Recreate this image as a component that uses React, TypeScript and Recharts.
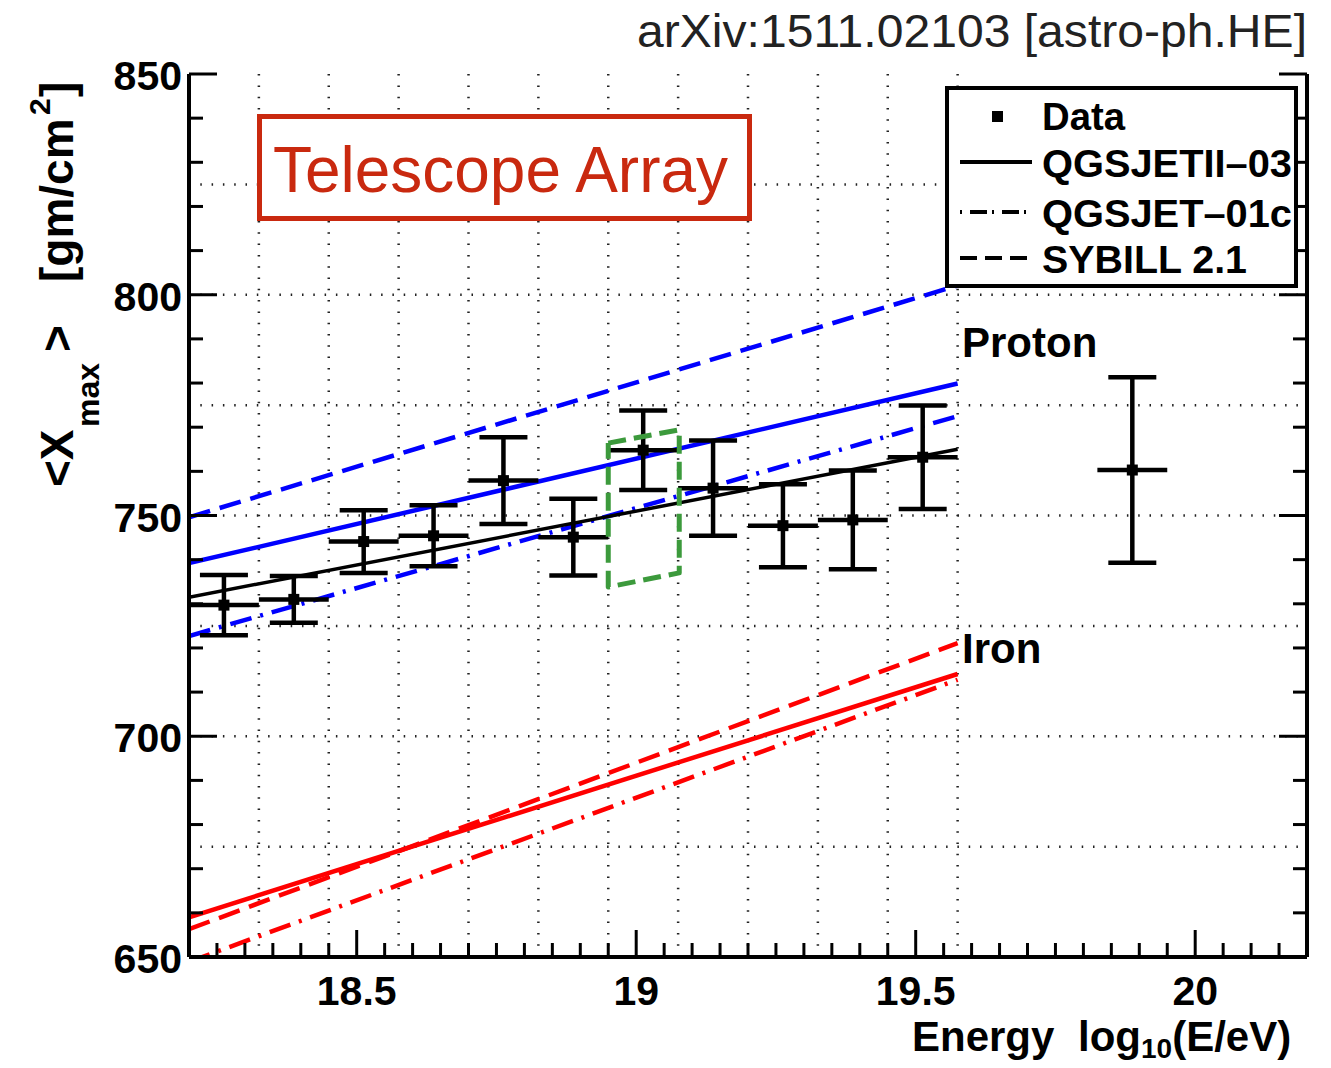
import React from 'react';
import { ComposedChart, XAxis, YAxis, Line, Scatter, ErrorBar, ReferenceLine } from 'recharts';

// <Xmax> per energy bin (log10 E/eV), bin half-width and statistical error
const energy = [18.2625, 18.3875, 18.5125, 18.6375, 18.7625, 18.8875, 19.0125, 19.1375, 19.2625, 19.3875, 19.5125, 19.8875];
const xmaxMean = [729.7, 731.0, 744.1, 745.4, 757.9, 745.1, 764.8, 756.2, 747.7, 749.0, 763.2, 760.3];
const xmaxErr = [6.8, 5.3, 7.1, 6.9, 9.8, 8.7, 9.0, 10.8, 9.4, 11.2, 11.7, 21.0];
const binHalf = [0.0625, 0.0625, 0.0625, 0.0625, 0.0625, 0.0625, 0.0625, 0.0625, 0.0625, 0.0625, 0.0625, 0.0625];

// straight-line predictions, evaluated at the ends of the fitted range
const lineEnergy = [18.2, 19.575];
const dataFit = [731.5, 765.0];
const protonQgsjetII = [739.2, 779.9];
const protonQgsjet01 = [722.7, 772.5];
const protonSibyll = [749.6, 802.1];
const ironQgsjetII = [659.0, 714.1];
const ironQgsjet01 = [648.9, 712.8];
const ironSibyll = [656.3, 721.1];

// highlighted bin outline
const boxEnergy = [18.95, 19.077, 19.077, 18.95, 18.95];
const boxXmax = [766.4, 769.4, 737.0, 733.8, 766.4];

// grid: bin edges and every 25 g/cm2
const gridEnergy = [18.325, 18.45, 18.575, 18.7, 18.825, 18.95, 19.075, 19.2, 19.325, 19.45, 19.575];
const gridXmax = [675, 700, 725, 750, 775, 800, 825];

const xMajorLabels = [18.5, 19, 19.5, 20];
const yMajorLabels = [650, 700, 750, 800, 850];

const X_DOMAIN: [number, number] = [18.2, 20.2];
const Y_DOMAIN: [number, number] = [650, 850];

const xTicks: number[] = [];
for (let i = 0; i < 39; i++) xTicks.push(Number((18.25 + 0.05 * i).toFixed(2)));
const yTicks: number[] = [];
for (let v = 650; v <= 850; v += 10) yTicks.push(v);

const FONT = "'Liberation Sans', Arial, Helvetica, sans-serif";
const DASHED = '22 10';
const DASHDOT = '22 9 3 9';

const pts = (xs: number[], ys: number[]) => xs.map((x, i) => ({ x, y: ys[i] }));
const dataPoints = energy.map((x, i) => ({ x, y: xmaxMean[i], ey: xmaxErr[i], ex: binHalf[i] }));

const isMajorX = (v: number) => xMajorLabels.some((m) => Math.abs(m - v) < 1e-6);
const isMajorY = (v: number) => yMajorLabels.includes(v);

function BottomTick({ x, y, payload }: any) {
  const major = isMajorX(payload.value);
  return (
    <g>
      <line x1={x} x2={x} y1={y} y2={y - (major ? 27 : 14)} stroke="#000" strokeWidth={3} />
      {major && (
        <text x={x} y={y + 48} textAnchor="middle" fontFamily={FONT} fontWeight={700} fontSize={41} fill="#000">
          {String(payload.value)}
        </text>
      )}
    </g>
  );
}

function TopTick({ x, y, payload }: any) {
  const major = isMajorX(payload.value);
  return <line x1={x} x2={x} y1={y} y2={y + (major ? 27 : 14)} stroke="#000" strokeWidth={3} />;
}

function LeftTick({ x, y, payload }: any) {
  const major = isMajorY(payload.value);
  return (
    <g>
      <line x1={x} x2={x + (major ? 28 : 14)} y1={y} y2={y} stroke="#000" strokeWidth={3} />
      {major && (
        <text x={x - 7} y={y + 16} textAnchor="end" fontFamily={FONT} fontWeight={700} fontSize={41} fill="#000">
          {payload.value}
        </text>
      )}
    </g>
  );
}

function RightTick({ x, y, payload }: any) {
  const major = isMajorY(payload.value);
  return <line x1={x} x2={x - (major ? 28 : 14)} y1={y} y2={y} stroke="#000" strokeWidth={3} />;
}

const SquareMarker = (p: any) => <rect x={p.cx - 5.5} y={p.cy - 5.5} width={11} height={11} fill="#000" />;

const axisLine = { stroke: '#000', strokeWidth: 4 };
const gridStyle = { stroke: '#222', strokeWidth: 2.5, strokeDasharray: '1.5 9.8' };

function Annotations() {
  const bold = { fontFamily: FONT, fontWeight: 700, fill: '#000' } as const;
  return (
    <svg width={1331} height={1068} style={{ position: 'absolute', left: 0, top: 0, pointerEvents: 'none' }}>
      <text x={1307} y={47} textAnchor="end" fontFamily={FONT} fontSize={46} fill="#222" textLength={670} lengthAdjust="spacingAndGlyphs">
        arXiv:1511.02103 [astro-ph.HE]
      </text>

      <rect x={259.5} y={116.5} width={490} height={102} fill="#fff" stroke="#c9290f" strokeWidth={5} />
      <text x={273} y={192} fontFamily={FONT} fontSize={64} fill="#c9290f" textLength={455} lengthAdjust="spacingAndGlyphs">
        Telescope Array
      </text>

      <text x={962} y={357} fontSize={42} {...bold}>Proton</text>
      <text x={962} y={663} fontSize={42} {...bold}>Iron</text>

      <rect x={947} y={88} width={349} height={198} fill="#fff" stroke="#000" strokeWidth={4} />
      <rect x={992} y={111} width={11} height={11} fill="#000" />
      <line x1={960} x2={1032} y1={162} y2={162} stroke="#000" strokeWidth={4} />
      <line x1={960} x2={1032} y1={212} y2={212} stroke="#000" strokeWidth={4} strokeDasharray="2 8 17 5" />
      <line x1={960} x2={1032} y1={258} y2={258} stroke="#000" strokeWidth={4} strokeDasharray="17 8" />
      <text x={1042} y={130} fontSize={38} textLength={83} lengthAdjust="spacingAndGlyphs" {...bold}>Data</text>
      <text x={1042} y={177} fontSize={38} textLength={250} lengthAdjust="spacingAndGlyphs" {...bold}>QGSJETII–03</text>
      <text x={1042} y={227} fontSize={38} textLength={250} lengthAdjust="spacingAndGlyphs" {...bold}>QGSJET–01c</text>
      <text x={1042} y={273} fontSize={38} textLength={205} lengthAdjust="spacingAndGlyphs" {...bold}>SYBILL 2.1</text>

      <text y={1051} fontSize={42} {...bold}>
        <tspan x={912}>Energy</tspan>
        <tspan x={1078}>log</tspan>
        <tspan dy={7} fontSize={28}>10</tspan>
        <tspan dy={-7}>(E/eV)</tspan>
      </text>

      <text transform="translate(73,487) rotate(-90)" fontSize={46} {...bold}>
        <tspan x={0} y={0}>{'<X'}</tspan>
        <tspan x={60} y={26} fontSize={32}>max</tspan>
        <tspan x={135} y={0}>{'>'}</tspan>
        <tspan x={205} y={0}>[gm/cm</tspan>
        <tspan x={372} y={-23} fontSize={30}>2</tspan>
        <tspan x={390} y={0}>]</tspan>
      </text>
    </svg>
  );
}

export default function App() {
  return (
    <div style={{ position: 'absolute', left: 0, top: 0, width: 1331, height: 1068, background: '#fff' }}>
      <ComposedChart width={1331} height={1068} margin={{ top: 74, right: 0, bottom: 0, left: 0 }}>
        <XAxis xAxisId="b" dataKey="x" type="number" domain={X_DOMAIN} allowDataOverflow ticks={xTicks} interval={0}
          orientation="bottom" height={111} tickSize={0} tickMargin={0} tickLine={false} axisLine={axisLine} tick={(p: any) => <BottomTick {...p} />} />
        <XAxis xAxisId="t" dataKey="x" type="number" domain={X_DOMAIN} allowDataOverflow ticks={xTicks} interval={0}
          orientation="top" height={0} tickSize={0} tickMargin={0} tickLine={false} axisLine={axisLine} tick={(p: any) => <TopTick {...p} />} />
        <YAxis yAxisId="l" dataKey="y" type="number" domain={Y_DOMAIN} allowDataOverflow ticks={yTicks} interval={0}
          orientation="left" width={189} tickSize={0} tickMargin={0} tickLine={false} axisLine={axisLine} tick={(p: any) => <LeftTick {...p} />} />
        <YAxis yAxisId="r" dataKey="y" type="number" domain={Y_DOMAIN} allowDataOverflow ticks={yTicks} interval={0}
          orientation="right" width={24} tickSize={0} tickMargin={0} tickLine={false} axisLine={axisLine} tick={(p: any) => <RightTick {...p} />} />

        {gridEnergy.map((v) => (
          <ReferenceLine key={`gx${v}`} x={v} xAxisId="b" yAxisId="l" {...gridStyle} />
        ))}
        {gridXmax.map((v) => (
          <ReferenceLine key={`gy${v}`} y={v} xAxisId="b" yAxisId="l" {...gridStyle} />
        ))}

        <Line data={pts(lineEnergy, protonSibyll)} dataKey="y" xAxisId="b" yAxisId="l" type="linear" stroke="#0000ff" strokeWidth={4.5} strokeDasharray={DASHED} dot={false} isAnimationActive={false} />
        <Line data={pts(lineEnergy, protonQgsjetII)} dataKey="y" xAxisId="b" yAxisId="l" type="linear" stroke="#0000ff" strokeWidth={4.5} dot={false} isAnimationActive={false} />
        <Line data={pts(lineEnergy, protonQgsjet01)} dataKey="y" xAxisId="b" yAxisId="l" type="linear" stroke="#0000ff" strokeWidth={4.5} strokeDasharray={DASHDOT} dot={false} isAnimationActive={false} />
        <Line data={pts(lineEnergy, ironSibyll)} dataKey="y" xAxisId="b" yAxisId="l" type="linear" stroke="#ff0000" strokeWidth={4.5} strokeDasharray={DASHED} dot={false} isAnimationActive={false} />
        <Line data={pts(lineEnergy, ironQgsjetII)} dataKey="y" xAxisId="b" yAxisId="l" type="linear" stroke="#ff0000" strokeWidth={4.5} dot={false} isAnimationActive={false} />
        <Line data={pts(lineEnergy, ironQgsjet01)} dataKey="y" xAxisId="b" yAxisId="l" type="linear" stroke="#ff0000" strokeWidth={4.5} strokeDasharray={DASHDOT} dot={false} isAnimationActive={false} />
        <Line data={pts(lineEnergy, dataFit)} dataKey="y" xAxisId="b" yAxisId="l" type="linear" stroke="#000" strokeWidth={3.5} dot={false} isAnimationActive={false} />

        <Scatter data={dataPoints} dataKey="y" xAxisId="b" yAxisId="l" fill="#000" shape={SquareMarker} isAnimationActive={false}>
          <ErrorBar dataKey="ey" direction="y" width={24} stroke="#000" strokeWidth={4.5} />
          <ErrorBar dataKey="ex" direction="x" width={0} stroke="#000" strokeWidth={4.5} />
        </Scatter>

        <Line data={pts(boxEnergy, boxXmax)} dataKey="y" xAxisId="b" yAxisId="l" type="linear" stroke="#3c9a3c" strokeWidth={5} strokeDasharray="18 8" strokeLinejoin="round" dot={false} isAnimationActive={false} />
      </ComposedChart>
      <Annotations />
    </div>
  );
}
